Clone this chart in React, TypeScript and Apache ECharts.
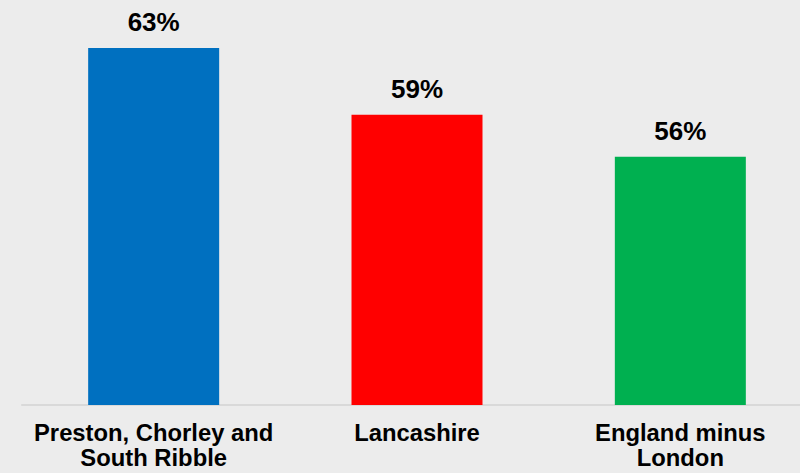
import React, { useEffect, useRef } from "react";
import * as echarts from "echarts";

const categories = ["Preston, Chorley and\nSouth Ribble", "Lancashire", "England minus\nLondon"];
const values = [63.0, 58.7, 56.0];
const barColors = ["#0070c0", "#ff0000", "#00b050"];

export default function App() {
  const ref = useRef<HTMLDivElement>(null);
  useEffect(() => {
    if (!ref.current) return;
    const chart = echarts.init(ref.current, undefined, { renderer: "svg" });
    chart.setOption({
      animation: false,
      backgroundColor: "#ececec",
      grid: { left: 22, right: 0, top: 17, bottom: 68, containLabel: false },
      xAxis: {
        type: "category",
        data: categories,
        axisLine: { show: true, lineStyle: { color: "#d9d9d9", width: 2 } },
        axisTick: { show: false },
        axisLabel: {
          interval: 0,
          margin: 15,
          color: "#000",
          fontSize: 23.8,
          fontWeight: "bold",
          lineHeight: 25,
          fontFamily: "Liberation Sans, Arial, sans-serif",
        },
      },
      yAxis: {
        type: "value",
        min: 40,
        max: 65,
        show: false,
        splitLine: { show: false },
      },
      series: [
        {
          type: "bar",
          barWidth: 131,
          data: values.map((v, i) => ({ value: v, itemStyle: { color: barColors[i] } })),
          label: {
            show: true,
            position: "top",
            distance: 13,
            color: "#000",
            fontSize: 26,
            fontWeight: "bold",
            fontFamily: "Liberation Sans, Arial, sans-serif",
            formatter: (p: any) => Math.round(p.value) + "%",
          },
        },
      ],
    });
    return () => chart.dispose();
  }, []);
  return (
    <div
      style={{
        position: "absolute",
        left: 0,
        top: 0,
        width: 800,
        height: 473,
        overflow: "hidden",
        background: "#ececec",
      }}
    >
      <div ref={ref} style={{ width: 812, height: 473 }} />
    </div>
  );
}
